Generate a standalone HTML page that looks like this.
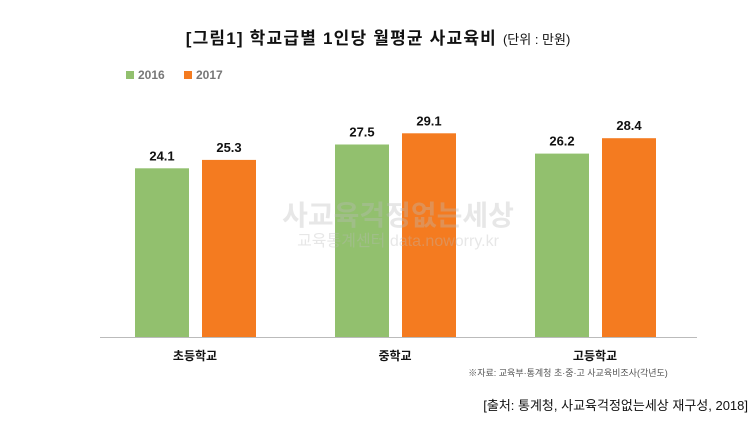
<!DOCTYPE html>
<html><head><meta charset="utf-8"><style>
body{margin:0;background:#fff;width:755px;height:421px;overflow:hidden;font-family:"Liberation Sans","Noto Sans CJK KR",sans-serif}
svg{display:block}
</style></head><body>
<svg id="chart" width="755" height="421">
<text x="378" y="44" text-anchor="middle" font-size="17" font-weight="bold" fill="#111" letter-spacing="1.2">[그림1] 학교급별 1인당 월평균 사교육비 <tspan font-size="13" font-weight="normal" letter-spacing="0">(단위 : 만원)</tspan></text>
<g>
<rect x="126" y="71" width="8" height="8" fill="#92c06e"/>
<text x="138" y="79" font-size="12" font-weight="bold" fill="#777">2016</text>
<rect x="184" y="71" width="8" height="8" fill="#f47b20"/>
<text x="196" y="79" font-size="12" font-weight="bold" fill="#777">2017</text>
</g>
<g id="bars"></g>
<g fill="#bbb" fill-opacity="0.35" text-anchor="middle">
<text x="398" y="225" font-size="28" font-weight="bold">사교육걱정없는세상</text>
<text x="398" y="246" font-size="16">교육통계센터 data.noworry.kr</text>
</g>
<line x1="100" y1="337.5" x2="697" y2="337.5" stroke="#bbb" stroke-width="1"/>
<text x="568" y="376" font-size="9" fill="#555" text-anchor="middle">※자료: 교육부·통계청 초·중·고 사교육비조사(각년도)</text>
<text x="748" y="410" font-size="13" fill="#111" text-anchor="end">[출처: 통계청, 사교육걱정없는세상 재구성, 2018]</text>
</svg>
<script>
const categories=["초등학교","중학교","고등학교"];
const series2016=[24.1,27.5,26.2];
const series2017=[25.3,29.1,28.4];
const baseY=337, pxPerUnit=7, x0=100, band=200, barW=54;
const yScale=v=>baseY-v*pxPerUnit;
const bandX=i=>x0+i*band;
const g=document.getElementById('bars');
const NS="http://www.w3.org/2000/svg";
function mk(tag,attrs){const e=document.createElementNS(NS,tag);for(const k in attrs)e.setAttribute(k,attrs[k]);return e;}
categories.forEach((c,i)=>{
  [[series2016,"#92c06e",35,"2016"],[series2017,"#f47b20",102,"2017"]].forEach(([s,col,off,yr])=>{
    const x=bandX(i)+off, y=yScale(s[i]);
    const r=mk('rect',{x:x,y:y,width:barW,height:baseY-y,fill:col});
    
    
    g.appendChild(r);
    const t=mk('text',{x:x+barW/2,y:y-8,'text-anchor':'middle','font-size':13,'font-weight':'bold',fill:'#111'});
    t.textContent=s[i].toFixed(1);
    
    
    g.appendChild(t);
  });
  const l=mk('text',{x:bandX(i)+95,y:360,'text-anchor':'middle','font-size':12,'font-weight':'bold',fill:'#111'});
  l.textContent=c;
  
  
  g.appendChild(l);
});
</script>
</body></html>
